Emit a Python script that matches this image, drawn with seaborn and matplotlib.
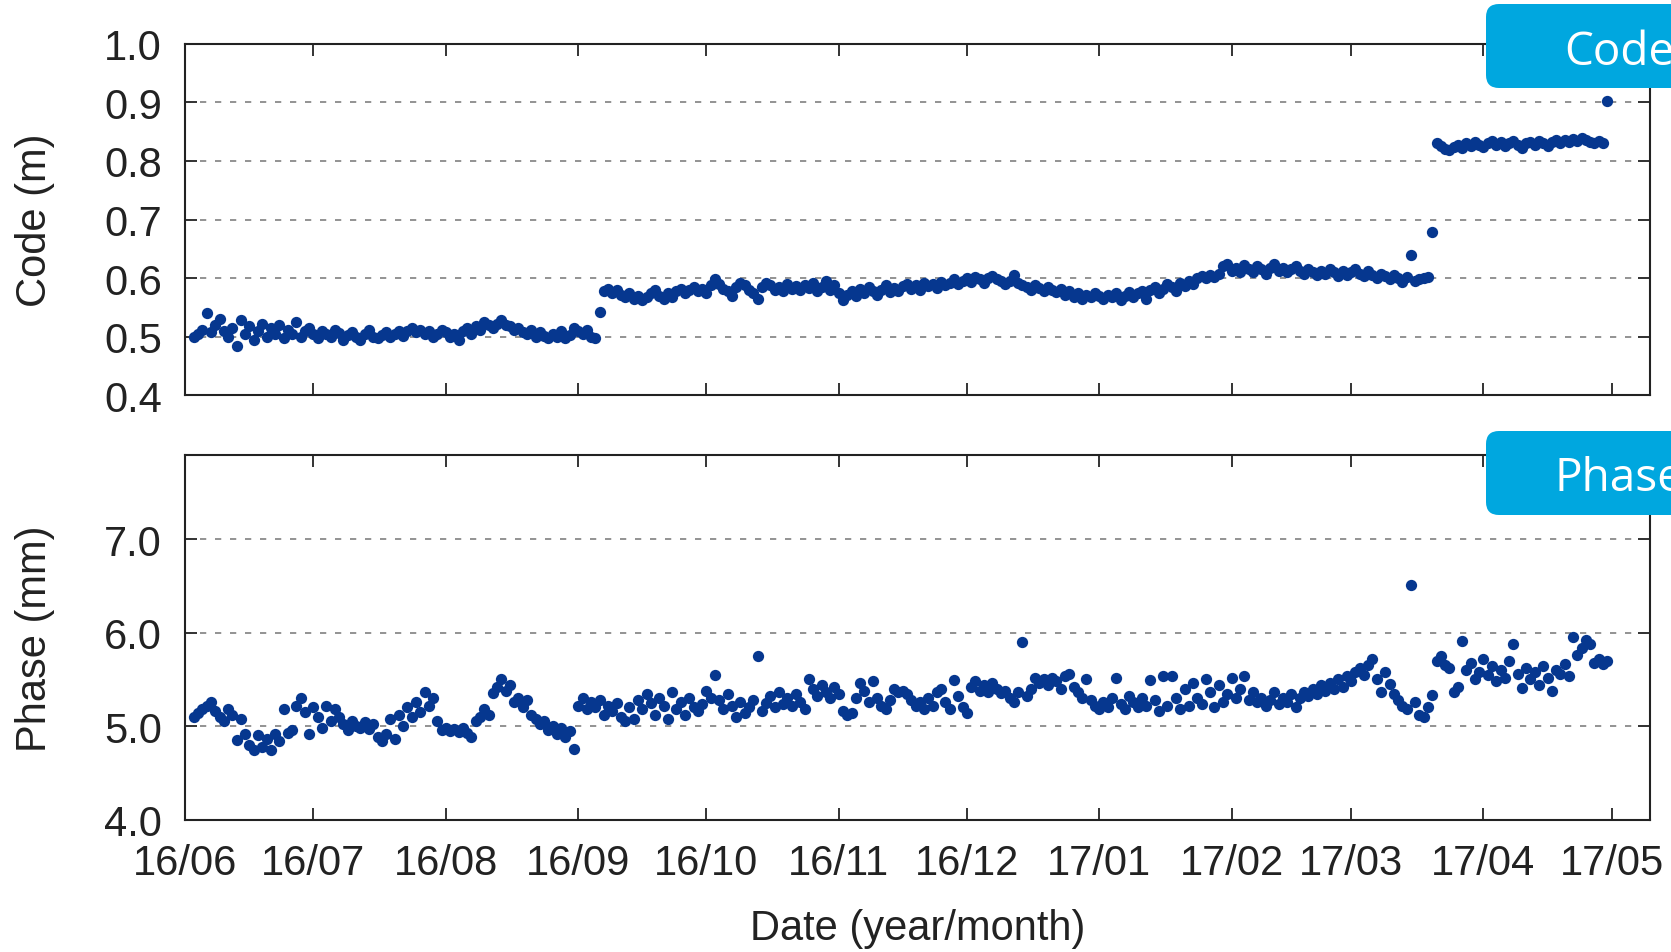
import numpy as np
import pandas as pd
import matplotlib
matplotlib.use("Agg")
import matplotlib.pyplot as plt
import matplotlib.dates as mdates
import seaborn as sns
from matplotlib.patches import FancyBboxPatch

# ---------------------------------------------------------------
# data: daily values, 2016-06-03 .. 2017-05-01
# ---------------------------------------------------------------
start_date = "2016-06-03"

code_values = [
    0.500, 0.505, 0.512, 0.540, 0.508, 0.520, 0.530, 0.510, 0.500, 0.515,
    0.485, 0.528, 0.505, 0.518, 0.495, 0.510, 0.522, 0.500, 0.515, 0.505,
    0.520, 0.498, 0.512, 0.505, 0.525, 0.500, 0.510, 0.515, 0.505, 0.498,
    0.510, 0.505, 0.500, 0.512, 0.506, 0.495, 0.503, 0.508, 0.500, 0.495,
    0.505, 0.512, 0.500, 0.498, 0.503, 0.508, 0.500, 0.505, 0.510, 0.502,
    0.510, 0.515, 0.508, 0.512, 0.505, 0.510, 0.500, 0.505, 0.512, 0.508,
    0.500, 0.505, 0.495, 0.510, 0.515, 0.505, 0.518, 0.512, 0.525, 0.520,
    0.515, 0.522, 0.528, 0.520, 0.518, 0.512, 0.515, 0.508, 0.505, 0.512,
    0.500, 0.508, 0.502, 0.498, 0.505, 0.500, 0.510, 0.498, 0.503, 0.515,
    0.510, 0.505, 0.512, 0.500, 0.498, 0.542, 0.578, 0.582, 0.575, 0.580,
    0.572, 0.568, 0.575, 0.565, 0.570, 0.562, 0.568, 0.575, 0.580, 0.570,
    0.565, 0.575, 0.568, 0.578, 0.582, 0.575, 0.580, 0.585, 0.578, 0.582,
    0.575, 0.588, 0.598, 0.590, 0.582, 0.578, 0.570, 0.585, 0.592, 0.588,
    0.580, 0.575, 0.565, 0.585, 0.592, 0.588, 0.580, 0.585, 0.578, 0.590,
    0.582, 0.586, 0.580, 0.588, 0.584, 0.592, 0.578, 0.585, 0.595, 0.580,
    0.588, 0.575, 0.562, 0.572, 0.578, 0.570, 0.582, 0.575, 0.585, 0.578,
    0.572, 0.580, 0.588, 0.576, 0.584, 0.578, 0.586, 0.590, 0.582, 0.588,
    0.580, 0.592, 0.586, 0.590, 0.584, 0.594, 0.588, 0.592, 0.598, 0.590,
    0.596, 0.600, 0.594, 0.602, 0.598, 0.592, 0.600, 0.604, 0.598, 0.595,
    0.590, 0.596, 0.605, 0.592, 0.588, 0.585, 0.580, 0.588, 0.584, 0.578,
    0.585, 0.580, 0.576, 0.582, 0.572, 0.578, 0.568, 0.575, 0.565, 0.572,
    0.568, 0.575, 0.570, 0.565, 0.572, 0.568, 0.575, 0.562, 0.570, 0.576,
    0.568, 0.574, 0.578, 0.565, 0.580, 0.585, 0.575, 0.582, 0.590, 0.585,
    0.578, 0.592, 0.586, 0.596, 0.590, 0.600, 0.604, 0.600, 0.606, 0.602,
    0.608, 0.620, 0.625, 0.612, 0.618, 0.610, 0.622, 0.616, 0.610, 0.620,
    0.615, 0.608, 0.618, 0.624, 0.612, 0.618, 0.610, 0.615, 0.620, 0.612,
    0.608, 0.615, 0.610, 0.605, 0.612, 0.608, 0.615, 0.610, 0.604, 0.612,
    0.606, 0.610, 0.615, 0.608, 0.603, 0.612, 0.606, 0.600, 0.608, 0.604,
    0.598, 0.605, 0.600, 0.594, 0.602, 0.640, 0.596, 0.598, 0.600, 0.602,
    0.678, 0.830, 0.825, 0.820, 0.818, 0.824, 0.828, 0.822, 0.830, 0.826,
    0.832, 0.828, 0.824, 0.830, 0.834, 0.828, 0.832, 0.826, 0.830, 0.834,
    0.828, 0.822, 0.830, 0.832, 0.828, 0.834, 0.830, 0.826, 0.832, 0.835,
    0.830, 0.836, 0.832, 0.838, 0.834, 0.840, 0.836, 0.832, 0.830, 0.834,
    0.830, 0.903,
]

phase_values = [
    5.10, 5.14, 5.18, 5.22, 5.26, 5.16, 5.10, 5.05, 5.18, 5.12,
    4.85, 5.08, 4.92, 4.80, 4.74, 4.90, 4.78, 4.86, 4.75, 4.92,
    4.84, 5.18, 4.93, 4.96, 5.22, 5.30, 5.15, 4.92, 5.20, 5.10,
    4.98, 5.22, 5.05, 5.18, 5.10, 5.02, 4.96, 5.05, 5.00, 4.98,
    5.04, 4.97, 5.02, 4.88, 4.84, 4.92, 5.08, 4.86, 5.12, 5.00,
    5.20, 5.10, 5.26, 5.15, 5.36, 5.22, 5.30, 5.05, 4.96, 4.98,
    4.95, 4.97, 4.94, 4.98, 4.93, 4.88, 5.05, 5.10, 5.18, 5.12,
    5.35, 5.42, 5.50, 5.38, 5.44, 5.26, 5.30, 5.20, 5.28, 5.12,
    5.08, 5.02, 5.06, 4.96, 5.00, 4.92, 4.98, 4.88, 4.95, 4.76,
    5.22, 5.30, 5.18, 5.26, 5.20, 5.28, 5.12, 5.22, 5.16, 5.25,
    5.10, 5.06, 5.20, 5.08, 5.28, 5.18, 5.34, 5.25, 5.12, 5.30,
    5.22, 5.08, 5.36, 5.18, 5.26, 5.12, 5.30, 5.20, 5.16, 5.24,
    5.38, 5.30, 5.55, 5.28, 5.18, 5.34, 5.22, 5.10, 5.26, 5.14,
    5.20, 5.28, 5.75, 5.16, 5.25, 5.32, 5.20, 5.36, 5.24, 5.30,
    5.22, 5.34, 5.26, 5.18, 5.50, 5.40, 5.32, 5.44, 5.36, 5.30,
    5.42, 5.34, 5.16, 5.12, 5.14, 5.30, 5.46, 5.38, 5.26, 5.48,
    5.30, 5.22, 5.18, 5.28, 5.40, 5.36, 5.38, 5.34, 5.28, 5.22,
    5.26, 5.18, 5.30, 5.22, 5.36, 5.40, 5.26, 5.18, 5.49, 5.32,
    5.20, 5.14, 5.42, 5.48, 5.38, 5.44, 5.36, 5.46, 5.40, 5.35,
    5.38, 5.30, 5.26, 5.36, 5.90, 5.32, 5.40, 5.52, 5.46, 5.50,
    5.44, 5.52, 5.48, 5.40, 5.54, 5.56, 5.42, 5.36, 5.30, 5.50,
    5.28, 5.22, 5.18, 5.26, 5.20, 5.30, 5.52, 5.24, 5.18, 5.32,
    5.26, 5.20, 5.30, 5.22, 5.49, 5.28, 5.16, 5.54, 5.22, 5.54,
    5.30, 5.18, 5.40, 5.22, 5.46, 5.30, 5.24, 5.50, 5.36, 5.20,
    5.44, 5.26, 5.34, 5.52, 5.30, 5.40, 5.54, 5.28, 5.36, 5.26,
    5.30, 5.22, 5.28, 5.36, 5.24, 5.30, 5.26, 5.34, 5.20, 5.30,
    5.36, 5.32, 5.40, 5.34, 5.44, 5.38, 5.46, 5.40, 5.50, 5.42,
    5.54, 5.48, 5.58, 5.62, 5.55, 5.65, 5.72, 5.50, 5.36, 5.58,
    5.45, 5.34, 5.28, 5.22, 5.18, 6.51, 5.26, 5.12, 5.10, 5.20,
    5.33, 5.70, 5.75, 5.65, 5.62, 5.36, 5.42, 5.91, 5.60, 5.68,
    5.50, 5.58, 5.72, 5.55, 5.64, 5.48, 5.60, 5.52, 5.70, 5.88,
    5.56, 5.41, 5.62, 5.50, 5.58, 5.44, 5.64, 5.52, 5.38, 5.60,
    5.56, 5.66, 5.54, 5.95, 5.76, 5.84, 5.92, 5.88, 5.68, 5.72,
    5.66, 5.70,
]

code_ticks = [0.4, 0.5, 0.6, 0.7, 0.8, 0.9, 1.0]
phase_ticks = [4.0, 5.0, 6.0, 7.0]
panel_labels = ["Code", "Phase"]

dates = pd.date_range(start_date, periods=len(code_values), freq="D")
code_df = pd.DataFrame({"date": dates, "code": code_values})
phase_df = pd.DataFrame({"date": dates, "phase": phase_values})

# ---------------------------------------------------------------
# style
# ---------------------------------------------------------------
sns.set_style("ticks")
plt.rcParams["font.family"] = ["Liberation Sans", "DejaVu Sans"]
plt.rcParams["lines.scale_dashes"] = False

DOT = "#06378f"
BOX = "#00a7df"
W, H = 1671, 953

fig = plt.figure(figsize=(W / 100, H / 100), dpi=100)
ax1 = fig.add_axes([185.4 / W, 1 - 396.4 / H, (1650 - 185.4) / W, (396.4 - 44.8) / H])
ax2 = fig.add_axes([185.4 / W, 1 - 820.6 / H, (1650 - 185.4) / W, (820.6 - 456.1) / H])

sns.scatterplot(data=code_df, x="date", y="code", ax=ax1, color=DOT,
                s=66, linewidth=0, legend=False, zorder=3)
sns.scatterplot(data=phase_df, x="date", y="phase", ax=ax2, color=DOT,
                s=66, linewidth=0, legend=False, zorder=3)

for ax, ticks, lim in [(ax1, code_ticks, (0.4, 1.0)), (ax2, phase_ticks, (4.0, 7.9))]:
    ax.set_xlim(pd.Timestamp("2016-06-01"), pd.Timestamp("2017-05-10"))
    ax.set_ylim(*lim)
    ax.set_yticks(ticks)
    ax.yaxis.set_major_formatter(matplotlib.ticker.FormatStrFormatter("%.1f"))
    ax.xaxis.set_major_locator(mdates.MonthLocator())
    ax.xaxis.set_major_formatter(mdates.DateFormatter("%y/%m"))
    ax.set_axisbelow(True)
    ax.grid(axis="y", color="#8a8a8a", linestyle=(0, (4.5, 6.3)), linewidth=1.3)
    ax.tick_params(direction="in", length=8.6, width=1.4, color="#333333",
                   top=True, right=True, labelsize=30, labelcolor="#222222", pad=17)
    for sp in ax.spines.values():
        sp.set_linewidth(1.5)
        sp.set_color("#222222")
        sp.set_visible(True)
    ax.set_xlabel("")

ax1.tick_params(labelbottom=False)

ax1.set_ylabel("Code (m)", fontsize=30, color="#222222")
ax2.set_ylabel("Phase (mm)", fontsize=30, color="#222222")
for ax in (ax1, ax2):
    ax.yaxis.label.set_va("center")
    ax.yaxis.set_label_coords(-0.1025, 0.5)

ax2.set_xlabel("Date (year/month)", fontsize=30, color="#222222")
ax2.xaxis.label.set_va("center")
ax2.xaxis.set_label_coords(0.5, -0.297)

# panel tags in the upper right corner, clipped by the figure edge as in the original
ov = fig.add_axes([0, 0, 1, 1], zorder=10)
ov.set_xlim(0, W)
ov.set_ylim(H, 0)
ov.axis("off")
for label, top, bottom, base in [(panel_labels[0], 5, 89, 65), (panel_labels[1], 432, 516, 491)]:
    ov.add_patch(FancyBboxPatch((1486, top), 300, bottom - top,
                                boxstyle="round,pad=0,rounding_size=13",
                                fc=BOX, ec="none"))
    ov.text(1619, base, label, ha="center", va="baseline", color="white",
            fontsize=33, family=["Open Sans", "DejaVu Sans"])

fig.savefig("out.png", dpi=100)
